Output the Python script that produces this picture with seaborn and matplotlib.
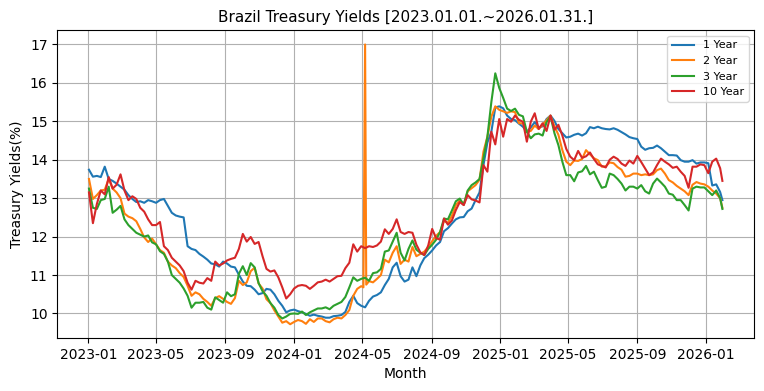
import pandas as pd
import matplotlib
matplotlib.use("Agg")
import matplotlib.pyplot as plt
import matplotlib.dates as mdates
import seaborn as sns

# weekly readings (Mondays from 2023-01-02) plus the last trading day
dates = list(pd.date_range("2023-01-02", periods=161, freq="7D")) + [pd.Timestamp("2026-01-30")]

y1 = [13.74, 13.56, 13.58, 13.55, 13.82, 13.50, 13.45, 13.38, 13.30, 13.22, 13.08, 12.98, 12.90, 12.92, 12.88,
      12.95, 12.92, 12.88, 12.95, 12.98, 12.80, 12.62, 12.55, 12.52, 12.50, 11.75, 11.68, 11.65, 11.55, 11.48,
      11.40, 11.30, 11.28, 11.22, 11.35, 11.30, 11.22, 11.20,
      11.01, 10.83, 10.72, 10.71, 10.62, 10.50, 10.53, 10.64, 10.62, 10.50, 10.33, 10.20, 10.03, 10.08, 10.10,
      10.06, 10.03, 9.99, 9.94, 9.97, 9.94, 9.92, 9.89, 9.89, 9.93, 9.94, 9.96, 10.04, 10.30, 10.46, 10.27,
      10.20, 10.16, 10.33, 10.44, 10.48, 10.55, 10.74, 10.90, 11.20, 11.32,
      10.97, 10.83, 10.88, 11.20, 10.97, 11.25, 11.44, 11.53, 11.64, 11.77, 11.86, 12.14, 12.22, 12.34, 12.45,
      12.50, 12.51, 12.66, 12.73, 12.95, 13.15, 13.86, 14.45, 14.73, 15.36, 15.39, 15.34, 15.15, 15.06, 15.03,
      14.94, 14.86, 14.73, 14.84, 14.98, 14.84, 14.87, 15.06, 15.15, 15.01, 14.80, 14.69, 14.58, 14.60,
      14.65, 14.68, 14.63, 14.69, 14.85, 14.82, 14.86, 14.82, 14.80, 14.79, 14.82, 14.78, 14.72, 14.66, 14.59,
      14.56, 14.54, 14.34, 14.26, 14.30, 14.31, 14.37, 14.30, 14.21, 14.12, 14.12, 14.11, 13.99, 13.95, 13.95,
      13.99, 13.90, 13.93, 13.93, 13.91, 13.33, 13.36, 13.16, 12.95]

y2 = [13.50, 12.98, 13.08, 13.20, 13.22, 13.50, 13.25, 13.15, 13.00, 12.60, 12.52, 12.48, 12.40, 12.20, 11.98,
      11.86, 11.95, 11.80, 11.65, 11.58, 11.35, 11.25, 11.18, 11.05, 10.95, 10.72, 10.46, 10.55, 10.50, 10.38,
      10.30, 10.20, 10.40, 10.45, 10.38, 10.30, 10.25, 10.40,
      10.85, 10.74, 10.81, 11.10, 11.19, 10.78, 10.65, 10.37, 10.27, 10.08, 9.92, 9.76, 9.80, 9.72, 9.78,
      9.83, 9.80, 9.73, 9.85, 9.78, 9.87, 9.87, 9.80, 9.77, 9.85, 9.89, 9.87, 9.96, 10.09, 10.46, 10.64,
      10.71, 17.00, 10.84, 10.81, 10.90, 11.00, 11.40, 11.33, 11.58, 11.75,
      11.29, 11.40, 11.35, 11.73, 11.49, 11.55, 11.61, 11.73, 11.88, 12.02, 12.12, 12.41, 12.36, 12.54, 12.82,
      12.94, 12.83, 13.18, 13.26, 13.34, 13.48, 14.21, 14.60, 15.12, 15.39, 15.30, 15.26, 15.22, 15.26, 15.24,
      14.95, 14.95, 14.73, 14.75, 14.89, 14.80, 14.91, 15.03, 15.15, 14.87, 14.65, 14.25, 13.95, 13.86,
      13.98, 13.97, 14.02, 14.25, 14.14, 14.04, 13.99, 13.82, 13.83, 13.93, 13.91, 13.81, 13.74, 13.56, 13.58,
      13.64, 13.64, 13.60, 13.62, 13.60, 13.62, 13.73, 13.77, 13.64, 13.47, 13.41, 13.32, 13.25, 13.18, 13.08,
      13.35, 13.42, 13.38, 13.36, 13.30, 13.20, 13.12, 13.00, 12.75]

# single-day spike in the 2 year series: days either side of 2024-05-06
spike_dates = [pd.Timestamp("2024-05-03"), pd.Timestamp("2024-05-08")]
spike_y2 = [10.68, 10.75]

y3 = [13.25, 12.75, 12.72, 12.95, 12.98, 13.30, 12.62, 12.70, 12.80, 12.45, 12.30, 12.20, 12.10, 12.05, 12.00,
      12.03, 11.85, 11.80, 11.62, 11.55, 11.35, 11.00, 10.90, 10.80, 10.65, 10.46, 10.15, 10.28, 10.28, 10.30,
      10.15, 10.10, 10.42, 10.35, 10.28, 10.55, 10.45, 10.50,
      11.03, 11.23, 11.00, 11.31, 11.20, 10.79, 10.58, 10.46, 10.27, 10.15, 9.96, 9.87, 9.92, 9.99, 10.00,
      9.99, 10.05, 9.96, 10.03, 10.08, 10.13, 10.13, 10.16, 10.11, 10.20, 10.25, 10.30, 10.43, 10.68, 10.94,
      10.85, 10.90, 10.93, 10.85, 11.05, 11.07, 11.16, 11.61, 11.64, 11.87, 12.10,
      11.58, 11.38, 11.68, 11.90, 11.66, 11.58, 11.52, 11.68, 11.79, 11.92, 12.12, 12.47, 12.45, 12.68, 12.92,
      12.99, 12.83, 13.20, 13.34, 13.41, 13.50, 14.04, 14.60, 15.50, 16.25, 15.87, 15.61, 15.33, 15.27, 15.33,
      15.17, 15.13, 14.73, 14.56, 14.66, 14.68, 14.63, 14.98, 15.13, 14.69, 14.38, 13.95, 13.60, 13.60,
      13.44, 13.67, 13.70, 13.84, 13.62, 13.69, 13.47, 13.27, 13.30, 13.64, 13.60, 13.50, 13.38, 13.20, 13.30,
      13.30, 13.25, 13.34, 13.18, 13.12, 13.38, 13.51, 13.41, 13.30, 13.12, 13.09, 12.95, 12.95, 12.82, 12.68,
      13.25, 13.30, 13.28, 13.28, 13.18, 13.08, 13.20, 13.00, 12.72]

y10 = [13.15, 12.35, 12.85, 13.20, 13.10, 13.55, 13.25, 13.35, 13.62, 13.20, 12.95, 13.05, 12.98, 12.75, 12.65,
       12.45, 12.30, 12.30, 12.38, 11.75, 11.65, 11.45, 11.35, 11.25, 11.10, 10.80, 10.62, 10.85, 10.80, 10.78,
       10.92, 10.85, 11.35, 11.25, 11.30, 11.38, 11.42, 11.45,
       11.68, 12.07, 11.87, 11.99, 11.81, 11.86, 11.49, 11.16, 11.09, 11.12, 10.94, 10.68, 10.39, 10.50, 10.65,
       10.72, 10.74, 10.72, 10.64, 10.72, 10.81, 10.83, 10.88, 10.83, 10.90, 10.97, 10.98, 11.18, 11.32, 11.80,
       11.61, 11.75, 11.70, 11.75, 11.73, 11.77, 11.87, 12.19, 12.07, 12.20, 12.45,
       12.12, 12.07, 12.12, 12.10, 11.79, 11.59, 11.52, 11.77, 12.20, 11.96, 11.92, 12.47, 12.31, 12.42, 12.69,
       12.90, 12.82, 13.08, 12.97, 12.94, 12.89, 13.86, 13.69, 14.73, 14.40, 15.06, 14.60, 15.06, 14.99, 15.15,
       15.04, 14.99, 14.47, 14.99, 15.21, 14.80, 14.95, 14.75, 15.15, 14.78, 14.91, 14.63, 14.28, 14.08,
       13.99, 14.23, 14.05, 14.09, 14.19, 14.02, 13.88, 13.84, 13.80, 14.00, 14.08, 14.02, 13.90, 13.84, 13.98,
       13.90, 14.10, 13.94, 13.77, 13.60, 13.67, 13.86, 14.03, 13.95, 13.88, 13.79, 13.82, 13.69, 13.58, 13.27,
       13.82, 13.82, 13.88, 13.86, 13.65, 13.95, 14.03, 13.78, 13.45]

tenors = ["1 Year", "2 Year", "3 Year", "10 Year"]

frames = []
for name, vals in zip(tenors, [y1, y2, y3, y10]):
    frames.append(pd.DataFrame({"Date": dates, "Yield": vals, "Tenor": name}))
frames.append(pd.DataFrame({"Date": spike_dates, "Yield": spike_y2, "Tenor": "2 Year"}))
df = pd.concat(frames, ignore_index=True).sort_values("Date")

fig, ax = plt.subplots(figsize=(7.64, 3.91), dpi=100)

sns.lineplot(data=df, x="Date", y="Yield", hue="Tenor", hue_order=tenors,
             palette=["#1f77b4", "#ff7f0e", "#2ca02c", "#d62728"],
             estimator=None, linewidth=1.5, ax=ax)

ax.xaxis.set_major_locator(mdates.MonthLocator(bymonth=[1, 5, 9]))
ax.xaxis.set_major_formatter(mdates.DateFormatter("%Y-%m"))
ax.grid(True)
ax.set_title("Brazil Treasury Yields [2023.01.01.~2026.01.31.]", fontsize=11)
ax.set_xlabel("Month")
ax.set_ylabel("Treasury Yields(%)")

handles, labels = ax.get_legend_handles_labels()
ax.legend(handles, labels, loc="upper right", fontsize=8)

plt.subplots_adjust(left=0.075, right=0.987, top=0.922, bottom=0.135)
plt.savefig("out.png", dpi=100)
plt.close()
